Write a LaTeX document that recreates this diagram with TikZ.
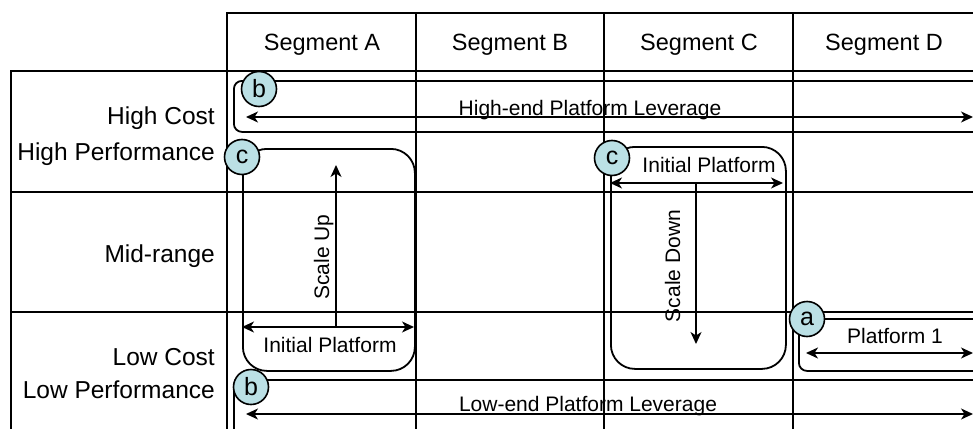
\documentclass[tikz,border=0pt]{standalone}
\usepackage{fontspec}
\setmainfont{Liberation Sans}
\usetikzlibrary{arrows.meta}
\definecolor{tagfill}{RGB}{187,224,229}
\tikzset{
  x=1pt, y=-1pt,
  gridline/.style={line width=1.8pt, line cap=rect},
  zone/.style={draw, line width=1.8pt, rectangle, inner sep=0pt, anchor=north west},
  tag/.style={draw, circle, fill=tagfill, line width=1.6pt, minimum size=35pt, inner sep=0pt,
    font=\fontsize{25}{25}\selectfont},
  headlbl/.style={anchor=base, inner sep=0pt, font=\fontsize{23.5}{28}\selectfont},
  rowlbl/.style={anchor=base east, inner sep=0pt, font=\fontsize{24.5}{28}\selectfont},
  zonelbl/.style={anchor=base, inner sep=0pt, font=\fontsize{21}{25}\selectfont},
  tip/.style={Stealth[length=12pt, width=11pt, inset=3.5pt]},
  arr/.style={line width=1.5pt, -{Stealth[length=12pt, width=11pt, inset=3.5pt]}},
  arrboth/.style={line width=1.5pt, {Stealth[length=12pt, width=11pt, inset=3.5pt]}-{Stealth[length=12pt, width=11pt, inset=3.5pt]}}
}
\begin{document}
\begin{tikzpicture}
\useasboundingbox (0,0) rectangle (973,428);
\clip (0,0) rectangle (973,428);
\fill[white] (0,0) rectangle (973,428);

% table grid
\draw[gridline] (227,13) -- (1000,13);
\draw[gridline] (11,71) -- (1000,71);
\draw[gridline] (11,192) -- (1000,192);
\draw[gridline] (11,312) -- (1000,312);
\draw[gridline] (11,71) -- (11,440);
\foreach \gx in {227,416,604,793,982} \draw[gridline] (\gx,13) -- (\gx,440);

% column headers
\node[headlbl] (segA) at (322,50) {Segment A};
\node[headlbl] (segB) at (510,50) {Segment B};
\node[headlbl] (segC) at (699,50) {Segment C};
\node[headlbl] (segD) at (884,50) {Segment D};

% row headers
\node[rowlbl] (hc) at (215,124) {High Cost};
\node[rowlbl] (hp) at (215,160) {High Performance};
\node[rowlbl] (mr) at (215,262) {Mid-range};
\node[rowlbl] (lc) at (215,365) {Low Cost};
\node[rowlbl] (lp) at (215,398) {Low Performance};

% platform zones
\node[zone, rounded corners=8pt, minimum width=760pt, minimum height=51pt] (hiZone) at (233,80) {};
\node[zone, rounded corners=24pt, minimum width=172pt, minimum height=222pt] (upZone) at (242,148) {};
\node[zone, rounded corners=24pt, minimum width=175pt, minimum height=222pt] (downZone) at (610,146) {};
\node[zone, rounded corners=8pt, minimum width=200pt, minimum height=52pt] (p1Zone) at (798,318) {};
\node[zone, rounded corners=8pt, minimum width=760pt, minimum height=70pt] (loZone) at (233,379) {};

% zone labels
\node[zonelbl] (hiLbl) at (590,115) {High-end Platform Leverage};
\node[zonelbl] (ipLeftLbl) at (330,352) {Initial Platform};
\node[zonelbl] (ipRightLbl) at (709,172) {Initial Platform};
\node[zonelbl] (p1Lbl) at (895,343) {Platform 1};
\node[zonelbl] (loLbl) at (588,411) {Low-end Platform Leverage};
\node[zonelbl, rotate=90] (upLbl) at (329,257) {Scale Up};
\node[zonelbl, rotate=90] (downLbl) at (680,266) {Scale Down};

% arrow end points
\coordinate (hiL) at (246,117);
\coordinate (hiR) at (973,117);
\coordinate (ipLL) at (242,327);
\coordinate (ipLR) at (414,327);
\coordinate (upFoot) at (336,327);
\coordinate (upTip) at (336,165);
\coordinate (ipRL) at (610,183);
\coordinate (ipRR) at (783,183);
\coordinate (downFoot) at (696,183);
\coordinate (downTip) at (696,344);
\coordinate (p1L) at (806,353);
\coordinate (p1R) at (973,353);
\coordinate (loL) at (246,414);
\coordinate (loR) at (973,414);

% arrows
\draw[arrboth] (hiL) -- (hiR);
\draw[arrboth] (ipLL) -- (ipLR);
\draw[arr] (upFoot) -- (upTip);
\draw[arrboth] (ipRL) -- (ipRR);
\draw[arr] (downFoot) -- (downTip);
\draw[arrboth] (p1L) -- (p1R);
\draw[arrboth] (loL) -- (loR);

% zone tags
\node[tag] (tagHi) at (259,89) {b};
\node[tag] (tagUp) at (242,157) {c};
\node[tag] (tagDown) at (612,158) {c};
\node[tag] (tagP1) at (807,319) {a};
\node[tag] (tagLo) at (251,387) {b};
\end{tikzpicture}
\end{document}
